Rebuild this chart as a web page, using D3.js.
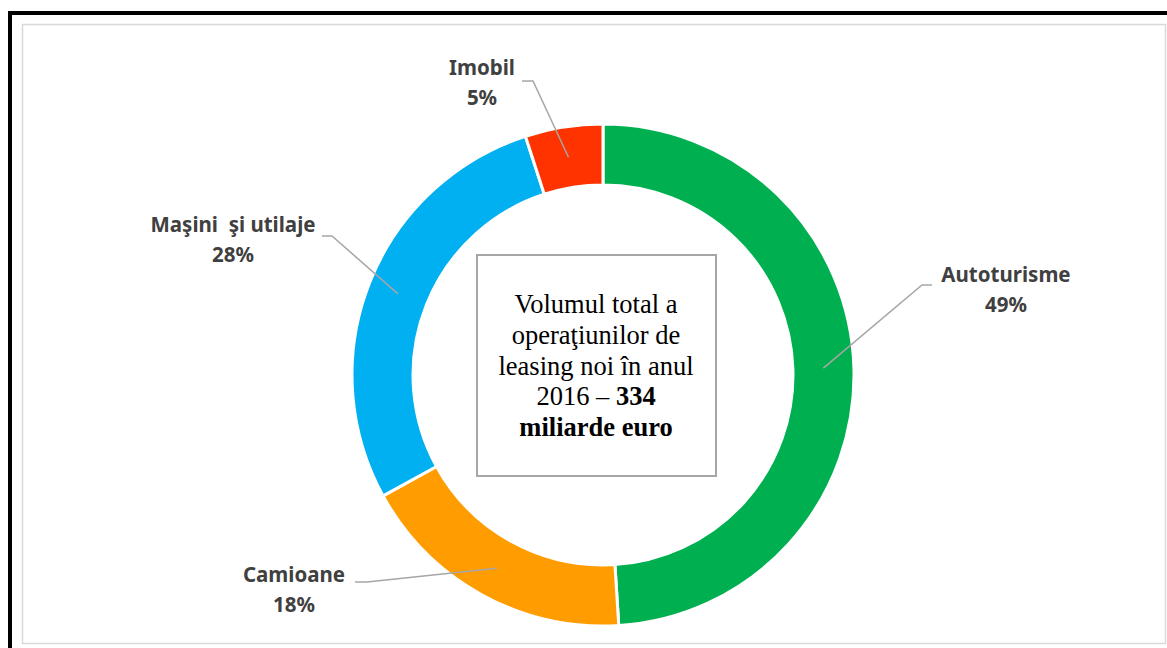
<!DOCTYPE html>
<html>
<head>
<meta charset="utf-8">
<script src="https://cdn.jsdelivr.net/npm/d3@7"></script>
<style>
  body { margin: 0; background: #fff; }
  svg { display: block; }
</style>
</head>
<body>
<div id="chart"></div>
<script>
// data, clockwise from the top
var categories = ["Autoturisme", "Camioane", "Maşini  şi utilaje", "Imobil"];
var shares = [49, 18, 28, 5];
var colors = ["#00B050", "#FF9C00", "#00B0F0", "#FF3300"];
var centerLines = [
  [{t: "Volumul total a", b: false}],
  [{t: "operaţiunilor de", b: false}],
  [{t: "leasing noi în anul", b: false}],
  [{t: "2016 – ", b: false}, {t: "334", b: true}],
  [{t: "miliarde euro", b: true}]
];

// label layout (text anchor + elbow of leader line)
var labelAt = [[1006, 282], [294, 582], [233, 232], [482, 75]];
var leaderFrom = [[932, 285], [355, 582], [322, 236], [522, 81]];
var leaderElbow = [[922, 285], [367, 582], [332, 236], [533, 81]];

var W = 1167, H = 648;
var cx = 603, cy = 375, outerR = 251, innerR = 190;

var svg = d3.select("#chart").append("svg")
  .attr("width", W).attr("height", H);

// outer black frame and chart area border
svg.append("rect")
  .attr("x", 10).attr("y", 13)
  .attr("width", W + 20).attr("height", H + 20)
  .attr("fill", "none").attr("stroke", "#000").attr("stroke-width", 4);
svg.append("rect")
  .attr("x", 22.5).attr("y", 24.5)
  .attr("width", 1143).attr("height", 619)
  .attr("fill", "#fff").attr("stroke", "#D9D9D9").attr("stroke-width", 1.5);

var data = categories.map(function(c, i) { return {name: c, value: shares[i], color: colors[i]}; });

var pie = d3.pie().sort(null).value(function(d) { return d.value; });
var arc = d3.arc().innerRadius(innerR).outerRadius(outerR);
var arcs = pie(data);

var chart = svg.append("g")
  .attr("transform", "translate(" + cx + "," + cy + ")");

chart.selectAll(".slice")
  .data(arcs).enter()
  .append("path")
  .attr("class", "slice")
  .attr("d", arc)
  .attr("fill", function(d) { return d.data.color; })
  .attr("stroke", "#fff")
  .attr("stroke-width", 3);

// leader lines: from label to slice centroid
svg.selectAll(".leader")
  .data(arcs).enter()
  .append("polyline")
  .attr("class", "leader")
  .attr("points", function(d, i) {
    var c = arc.centroid(d);
    return [leaderFrom[i], leaderElbow[i], [c[0] + cx, c[1] + cy]].map(function(p) { return p.join(","); }).join(" ");
  })
  .attr("fill", "none")
  .attr("stroke", "#A6A6A6")
  .attr("stroke-width", 1.5);

var labels = svg.selectAll(".label")
  .data(arcs).enter()
  .append("text")
  .attr("class", "label")
  .attr("text-anchor", "middle")
  .attr("font-family", "'Noto Sans', sans-serif")
  .attr("font-weight", "bold")
  .attr("font-size", "20.5px")
  .attr("fill", "#404040");

labels.append("tspan")
  .attr("x", function(d, i) { return labelAt[i][0]; })
  .attr("y", function(d, i) { return labelAt[i][1]; })
  .text(function(d) { return d.data.name; })
  .style("white-space", "pre");
labels.append("tspan")
  .attr("x", function(d, i) { return labelAt[i][0]; })
  .attr("y", function(d, i) { return labelAt[i][1] + 30; })
  .text(function(d) { return d.data.value + "%"; });

// center text box
svg.append("rect")
  .attr("x", 477).attr("y", 255)
  .attr("width", 239).attr("height", 221)
  .attr("fill", "#fff").attr("stroke", "#A6A6A6").attr("stroke-width", 2);

var box = svg.append("text")
  .attr("text-anchor", "middle")
  .attr("font-family", "'Liberation Serif', 'Times New Roman', serif")
  .attr("font-size", "26.5px")
  .attr("fill", "#000");

centerLines.forEach(function(line, i) {
  var t = box.append("tspan").attr("x", 596).attr("y", 313 + i * 30.8);
  line.forEach(function(part, j) {
    var s = j === 0 ? t : box.append("tspan");
    s.text(part.t).attr("font-weight", part.b ? "bold" : "normal");
  });
});
</script>
</body>
</html>
